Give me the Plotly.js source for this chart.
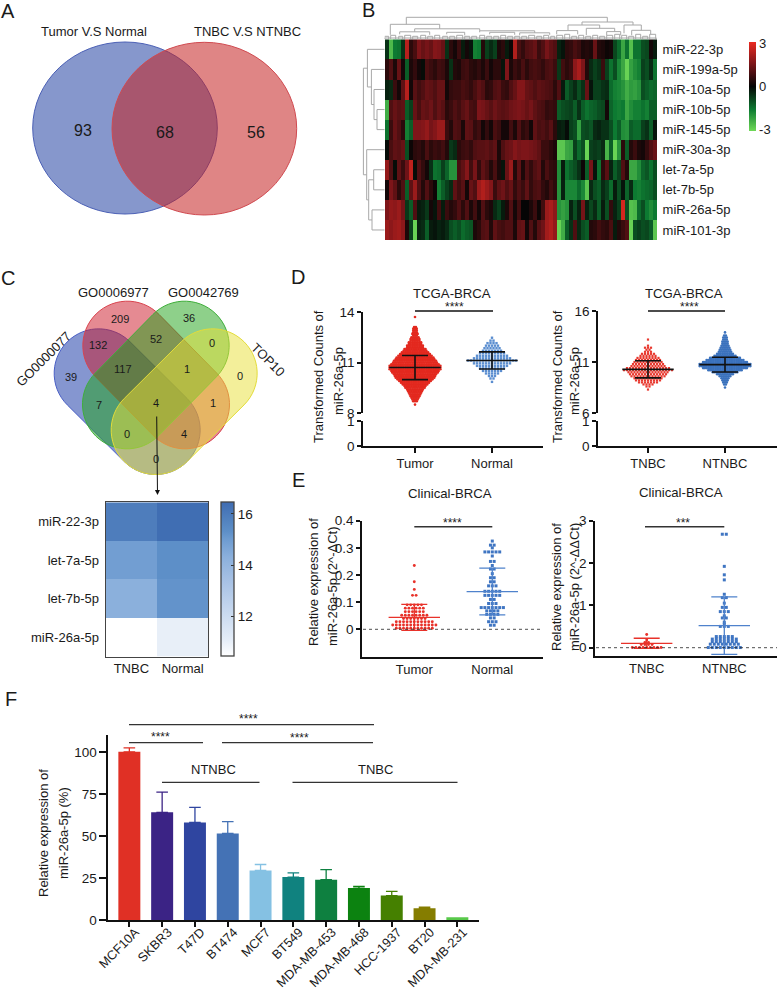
<!DOCTYPE html>
<html><head><meta charset="utf-8">
<script src="https://cdn.plot.ly/plotly-3.0.1.min.js"></script>
<style>html,body{margin:0;padding:0;background:#fff}#c{width:777px;height:991px}</style></head>
<body><div id="c"></div>
<script>
// ---------- DATA ----------
const heatRows=['miR-22-3p','miR-199a-5p','miR-10a-5p','miR-10b-5p','miR-145-5p','miR-30a-3p','let-7a-5p','let-7b-5p','miR-26a-5p','miR-101-3p'];
const heatR0=[-0.6,-2.6,-1.6,-1.5,-0.6,2.4,0.5,0.9,1.6,1.3,1.5,1.3,1.7,1.6,1.3,-0.6,0.5,0.2,0.7,-0.3,0.2,-0.2,-1.7,-1.6,0.4,-0.8,-0.5,-0.8,0.3,0.5,-0.3,0.1,2.3,0.9,0.6,1,1.1,1.3,0.7,1,1.5,1.2,1.0,-0.4,-0.2,0.5,0.6,0.9,0.7,0.3,0.4,0.3,1.3,0.4,0.3,0.1,0.2,-0.9,-1.4,-2.3,-1.5,-2.7,-1.5,-1.5,-1.0,-0.9,0.2,-0.3];
const heatR1=[0.5,1.0,0.3,1.3,0.2,-1.2,0.3,0.6,0.2,-0.1,0.9,0.7,0.5,0.8,0.7,0.3,-0.6,0.4,0.3,0.7,0.8,0.5,0.4,0.6,0.3,0.7,0.2,0.5,0.5,-0.2,1.6,0.3,0.7,0.5,0.9,0.5,0.8,0.9,0.8,0.6,0.9,1.0,0.7,-0.7,0.8,0.5,0.7,1.8,2.2,1.6,0.4,-0.5,-0.8,-0.6,0.7,-0.8,-1.5,-1,-1.8,-2.3,-3,-2.2,-1.9,-1.7,-0.8,-1,-0.5,-1.5];
const heatR2=[-0.4,-0.5,0.7,0.2,1.2,2.4,0.2,1.1,0.8,1,1.3,1.2,1.0,1.3,1.3,0.2,0.6,0.7,0.7,0.9,0.8,0.6,0.9,1.2,1.0,0.5,0.6,1,1.1,0.7,0.6,1.0,1.3,1.7,1.7,1.3,1.2,1.0,1.2,1.1,1,0.9,0.5,1,-0.3,-1.2,-0.8,-0.5,-1,-0.6,1.3,-0.2,-0.8,-0.8,-0.6,-0.5,-1.4,-1.7,-1.8,-2,-2.4,-2.1,-2.2,-2,-1,-1.2,-1.4,-1.3];
const heatR3=[-2.4,1.0,1.3,1.1,1.2,-1.2,-0.8,1.3,0.9,1.3,1.2,1.4,1,1.3,1.1,0.5,0.7,1,0.8,1.1,1.3,0.9,0.8,1.6,1.5,1.3,1.1,1.4,1.2,1.1,1.2,1.4,1.5,1.6,1.5,1.3,1.5,1.2,1.0,0.9,0.6,0.7,0.6,-1.2,-1.0,-0.9,-0.8,-1.2,-0.6,-1.2,-1.5,-1.3,-1.2,-1.0,-0.9,0.2,-1.3,-1.6,-1.7,-1.6,-2.3,-1.9,-1.7,-1.7,-1.5,-1.7,-1.2,-1.2];
const heatR4=[-1.5,0.7,1.3,1,0.5,-1.7,-1.2,1.6,1.6,1.7,1.9,1.5,1.7,2,2,0.7,0.4,1,0.9,0.3,1.2,1.1,0.6,0.8,0.2,0.6,0.2,0.9,0.7,0.2,0.2,0.8,0.3,1.0,0.5,0.7,0.2,1.2,0.9,1,0.8,1.1,0.5,-0.3,-0.4,-0.1,-0.8,-1,-2.2,-1,-0.9,-1.1,-0.5,-0.4,-0.6,-0.6,-1.0,-1.6,-1.2,-1.9,-2.0,-1.2,-1.4,-1.4,-0.8,-0.6,-1.2,-0.2];
const heatR5=[-0.1,0.9,1.2,1.1,1.3,-1,0.1,0.5,0.6,0.4,0.9,0.5,0.7,0.6,0.8,0.4,-0.7,-0.5,0.5,0.7,0.8,0.6,1,1.1,1.1,1.2,1,1.2,0.3,1,1.3,1.4,1.7,1.5,1.6,1.6,1.5,1.4,1.2,0.7,0.7,0.5,0.3,-2.8,-2.8,-2.3,-2.2,-0.8,-1.4,-1,-3,-0.8,-0.7,-0.8,-0.5,-2.5,-1.2,-3,-2,0.5,-1.2,0.4,0.7,0.3,0.2,0.6,1,1.3];
const heatR6=[1.9,1.0,-0.1,1.2,0.7,1.4,2.5,-0.1,1,0.6,0.2,-0.6,-1.5,-1.4,-0.8,-1.3,-2,-2,0.9,1.2,1.7,0.8,1.5,0.6,1.2,0.9,0.4,0.9,0.3,-0.2,1.3,2,0.4,1.2,0.3,1,0.6,1,1.2,0.4,0.9,0.6,0.5,-1.9,-0.3,-1.5,-1.2,-1,-0.6,0.1,-1.2,1.5,-0.2,-1.5,0.5,1.1,-0.4,-1.2,-0.8,1,0.4,-2.3,-2.3,-1.9,-1.3,-1.1,-1.5,-1.0];
const heatR7=[0.2,1.6,1.2,0.5,1,-1.2,1.2,2,1,0.4,1,0.5,0.1,-1.7,-1.2,-0.8,-0.5,1.2,0.8,1.1,0.2,1.3,1.0,2,2.3,2.0,1.7,0.7,1.2,1.4,1,1.3,0.6,1,0.7,1.2,0.6,0.9,1,0.6,0.4,0.8,0.5,-2,-0.4,-1.8,-1.8,-1.8,-1.4,-1.8,-2.8,-0.5,-1,-1.2,-0.5,-0.8,-1.4,-0.3,-1,-0.2,-1.3,-0.5,-1.6,-1.7,-1.5,-1.4,-1.3,-1.0];
const heatR8=[1.6,1.9,1.8,2,1.5,-0.7,-1.2,1,-0.3,-0.4,-0.7,0.2,-0.2,0.8,-0.3,0.7,0.4,0.6,1.0,0.5,1,0.3,0.8,0.2,1,0.5,0.3,-0.5,-0.8,-0.3,0.3,1,0.2,0.8,0,0,0.3,0.7,0.1,0.8,2,2.2,1.8,-2,-2.2,-2,-0.4,-1.0,-0.4,1.5,-0.4,-0.9,-0.5,-1.2,-0.3,-1,0.6,-0.4,-0.8,2.8,-1,-2.7,-2.6,-1.4,-1,-1.6,-1.9,-1.6];
const heatR9=[2,1.8,2,2.1,1.8,0.3,-0.8,-3,-0.4,-0.5,-1.2,-0.3,-0.2,-0.4,-0.3,-0.5,-1.0,-1.2,-1,-1.4,-1.2,-1.1,0.3,0.5,1.0,1.1,0.4,1.2,0.9,0.8,1,1,0.3,1.2,1.3,0.2,1,0.4,1.1,1.4,2.1,2.3,1.9,-3,-2.4,-1.2,-0.6,1,-0.5,-1,-1.2,0.4,0.5,0.8,0.6,0.5,0.9,-0.3,0.4,0.7,1,-3,-1,-0.8,-1,-0.9,-1.2,-2.8];
const heatMatrix=[heatR0,heatR1,heatR2,heatR3,heatR4,heatR5,heatR6,heatR7,heatR8,heatR9];
// dendrograms: [pos1,height1,pos2,height2,mergeHeight]
const topMerges=[[21.6,15,222.6,17.3,22],[5.6,4.5,55,10.5,15],[30,7.5,95,8.5,10.5],[95,7,150,6.5,8.5],[15,5,45,4.5,7.5],[62,5,80,4,7],[105,5,130,4.5,7],[135,4,165,4.5,6.5],[197.3,14.3,248.3,14.3,17.3],[183.3,8.7,215,11,14.3],[201.6,4.3,230,7.7,11],[239.3,6,256.6,9,14.3],[172,5,193,5,8.7],[247,4,266,5,9],[222,4,236,4,7.7]];
const topLeaves=[[0,4,3],[6,11,4],[14,18,3],[20,26,4],[28,33,3],[36,41,4],[43,48,3],[50,55,4],[58,63,3],[65,70,3],[72,78,4],[80,85,3],[87,92,3],[95,100,4],[102,107,3],[109,114,3],[116,121,4],[123,128,3],[130,135,3],[137,142,3],[144,150,4],[152,157,3],[159,164,4],[166,170,3],[172,178,4],[180,185,5],[187,192,3],[194,199,4],[201,206,3],[208,213,4],[215,220,3],[222,228,4],[230,235,5],[237,242,4],[244,249,3],[251,256,5],[258,263,3],[265,271,5],[0,272,1.3]];
const leftMerges=[[3,0,4,0,7.7],[2,0,3.5,7.7,10.7],[1,0,2.75,10.7,13.3],[0,0,1.875,13.3,17.3],[6,0,7,0,11],[8,0,9,0,12.7],[6.5,11,8.5,12.7,16],[5,0,7.5,16,18],[0.94,17.3,6.25,18,21.3]];
// Venn A
const vennALabels=['Tumor V.S Normal','TNBC V.S NTNBC'];
const vennACounts=[93,68,56];
// Venn C
const vennCNames=['GO0000077','GO0006977','GO0042769','TOP10'];
const vennCCounts=[209,36,132,52,0,39,117,1,0,7,4,1,0,4,0];
// Heatmap C
const cRows=['miR-22-3p','let-7a-5p','let-7b-5p','miR-26a-5p'];
const cCols=['TNBC','Normal'];
const cValues=[[15.9,16.4],[14.9,15.3],[14.3,15.2],[10.44,11.0]];
// D
const d1Cats=['Tumor','Normal'];
const d2Cats=['TNBC','NTNBC'];
const tumorLevels=[13.7,13.1,13.0,12.9,12.8,12.7,12.6,12.5,12.4,12.3,12.2,12.1,12.0,11.9,11.8,11.7,11.6,11.5,11.4,11.3,11.2,11.1,11.0,10.9,10.8,10.7,10.6,10.5,10.4,10.3,10.2,10.1,10.0,9.9,9.8,9.7,9.6,9.5,9.4,9.3,9.2,9.1,9.0,8.9,8.8,8.7,8.5];
const tumorCounts=[1,2,3,3,3,4,3,5,6,6,8,8,10,10,13,14,16,18,20,22,23,25,26,28,30,30,30,28,27,25,24,23,21,19,17,15,13,12,10,9,8,7,6,5,4,3,1];
const normalLevels=[12.47,12.3,12.15,12.0,11.85,11.7,11.55,11.4,11.25,11.12,10.95,10.8,10.65,10.5,10.35,10.2,10.05,9.85];
const normalCounts=[1,2,4,5,6,7,9,11,13,17,13,11,9,7,5,3,2,1];
const tnbcLevels=[13.2,12.6,12.4,12.2,12.0,11.8,11.6,11.4,11.2,11,10.8,10.6,10.4,10.2,10,9.8,9.6,9.4,9.2,9,8.8,8.6,8.3];
const tnbcCounts=[1,1,3,2,3,5,6,8,9,10,11,12,15,17,14,13,12,10,9,7,4,2,1];
const ntnbcLevels=[13.9,13.6,13.4,13.2,13,12.8,12.6,12.4,12.2,12,11.8,11.6,11.4,11.2,11,10.8,10.6,10.4,10.2,10,9.8,9.6,9.4,9.2,9,8.8,8.5];
const ntnbcCounts=[1,2,3,3,4,4,5,6,7,8,10,13,18,22,26,30,30,26,20,15,10,7,5,4,3,2,1];
const d1Means=[10.7,11.12], d1Sds=[0.72,0.51];
const d2Means=[10.28,10.74], d2Sds=[0.84,0.72];
// E
const e1TumorLevels=[0.235,0.175,0.147,0.125,0.09,0.078,0.065,0.052,0.04,0.028,0.016,0.004];
const e1TumorCounts=[1,1,1,2,5,6,6,8,7,11,13,11];
const e1NormalLevels=[0.325,0.31,0.30,0.285,0.27,0.25,0.235,0.222,0.205,0.19,0.175,0.16,0.14,0.125,0.11,0.095,0.08,0.068,0.055,0.042,0.028,0.015];
const e1NormalCounts=[1,2,1,5,1,2,1,2,1,2,2,3,5,5,2,3,7,4,4,2,3,2];
const e2TnbcLevels=[0.31,0.18,0.12,0.07,0];
const e2TnbcCounts=[1,1,2,4,9];
const e2NtnbcLevels=[2.68,1.92,1.72,1.6,1.26,1.18,1.05,0.95,0.85,0.75,0.7,0.6,0.55,0.5,0.26,0.2,0.14,0.08,0];
const e2NtnbcCounts=[2,1,1,1,1,2,1,2,3,1,2,1,1,3,5,7,7,8,9];
const e1Means=[0.044,0.139], e1Sds=[0.048,0.086];
const e2Means=[0.10,0.52], e2Sds=[0.12,0.68];
// F
const cellLines=['MCF10A','SKBR3','T47D','BT474','MCF7','BT549','MDA-MB-453','MDA-MB-468','HCC-1937','BT20','MDA-MB-231'];
const cellMeans=[100,64,58,51.5,29.5,25.5,24,19,14.5,7,1.7];
const cellErrors=[2.3,12,9,7,3.5,2.5,6,1,2.5,0.7,0];
const cellColors=['#e03025','#3b2385','#2f45a0','#4472b5','#85c1e3','#10827f','#0e8040','#0c8210','#458000','#857d00','#58c94a'];

// ---------- LAYOUT HELPERS ----------
const W=777,H=991,FONT='Liberation Sans, Arial, sans-serif',INK='#1a1a1a';
const dx=(a,b)=>[a/W,b/W], dy=(a,b)=>[1-b/H,1-a/H];
const PX=x=>x/W, PY=y=>1-y/H;
const annotations=[],shapes=[],traces=[];
function note(text,x,y,size,o){annotations.push(Object.assign({text:String(text),x:PX(x),y:PY(y),xref:'paper',yref:'paper',xanchor:'center',yanchor:'middle',showarrow:false,font:{family:FONT,size:size||13,color:INK}},o||{}));}
function line(x0,y0,x1,y1,color,width,dash){shapes.push({type:'line',xref:'paper',yref:'paper',x0:PX(x0),x1:PX(x1),y0:PY(y0),y1:PY(y1),line:{color:color||'#111',width:width||1.5,dash:dash||'solid'}});}
function swarm(levels,counts,center,spacing){const xs=[],ys=[];levels.forEach((v,i)=>{const n=counts[i];for(let k=0;k<n;k++){xs.push(center+(k-(n-1)/2)*spacing);ys.push(v);}});return {x:xs,y:ys};}
function merges(list,flip){const a=[],b=[];list.forEach(m=>{const pts=[[m[0],m[1]],[m[0],m[4]],[m[2],m[4]],[m[2],m[3]]];pts.forEach(p=>{a.push(p[0]);b.push(p[1]);});a.push(null);b.push(null);});return flip?{x:b,y:a}:{x:a,y:b};}
const layout={width:W,height:H,margin:{l:0,r:0,t:0,b:0},paper_bgcolor:'#fff',plot_bgcolor:'rgba(0,0,0,0)',showlegend:false,hovermode:'closest',font:{family:FONT,color:INK,size:13},annotations,shapes};
const hidden={visible:false,showgrid:false,zeroline:false,fixedrange:true};

// ---------- PANEL LETTERS ----------
note('A',8,11,20);note('B',368,10,20);note('C',8,278,20);note('D',298,277,20);note('E',298,480,20);note('F',11,699,20);

// ---------- A ----------
shapes.push({type:'circle',xref:'paper',yref:'paper',x0:PX(32.7),x1:PX(217.3),y0:PY(214),y1:PY(42),fillcolor:'rgba(35,66,162,0.55)',line:{color:'#4a5fb5',width:1}});
shapes.push({type:'circle',xref:'paper',yref:'paper',x0:PX(112),x1:PX(296.7),y0:PY(215),y1:PY(42.3),fillcolor:'rgba(197,33,33,0.55)',line:{color:'#d04a50',width:1}});
note(vennALabels[0],94,31,13);note(vennALabels[1],247,31,13);
[[83,131],[164.7,132],[256,132]].forEach((p,i)=>note(vennACounts[i],p[0],p[1],16));

// ---------- B ----------
traces.push({type:'heatmap',z:heatMatrix,y:heatRows,xaxis:'x',yaxis:'y',zmin:-3.1,zmax:3.1,
 colorscale:[[0,'#6fd957'],[0.242,'#0d7a32'],[0.5,'#050505'],[0.758,'#7d1519'],[1,'#ea2a20']],
 colorbar:{x:PX(749),xanchor:'left',y:PY(42),yanchor:'top',len:89/H,lenmode:'fraction',thickness:6.5,thicknessmode:'pixels',xpad:0,ypad:0,outlinewidth:0,tickvals:[3,0,-3],ticktext:['3','0','-3'],ticks:'',ticklabelposition:'outside',tickfont:{family:FONT,size:13,color:INK}},hoverongaps:false});
layout.xaxis=Object.assign({},hidden,{domain:dx(385,657),anchor:'y'});
layout.yaxis={domain:dy(39.3,240),anchor:'x',side:'right',autorange:'reversed',type:'category',showgrid:false,zeroline:false,ticks:'outside',ticklen:2,tickcolor:'rgba(0,0,0,0)',showline:false,tickfont:{family:FONT,size:13,color:INK},fixedrange:true};
const td=merges(topMerges.concat(topLeaves.map(l=>[l[0],0,l[1],0,l[2]])),false);
traces.push({type:'scatter',mode:'lines',x:td.x,y:td.y,xaxis:'x2',yaxis:'y2',line:{color:'#a8a8a8',width:1},hoverinfo:'skip'});
layout.xaxis2=Object.assign({},hidden,{domain:dx(384.7,656.7),range:[0,272],anchor:'y2'});
layout.yaxis2=Object.assign({},hidden,{domain:dy(16,39.3),range:[0,23.3],anchor:'x2'});
const ld=merges(leftMerges,true);
traces.push({type:'scatter',mode:'lines',x:ld.x,y:ld.y,xaxis:'x3',yaxis:'y3',line:{color:'#a8a8a8',width:1},hoverinfo:'skip'});
layout.xaxis3=Object.assign({},hidden,{domain:dx(360,384.7),range:[24.7,0],anchor:'y3'});
layout.yaxis3=Object.assign({},hidden,{domain:dy(39.3,240),range:[9.5,-0.5],anchor:'x3'});

// ---------- C venn ----------
function stadium(ax,ay,bx,by,r){const ang=Math.atan2(by-ay,bx-ax);const pts=[];for(let i=0;i<=30;i++){const t=ang+Math.PI/2+Math.PI*i/30;pts.push([ax+r*Math.cos(t),ay+r*Math.sin(t)]);}for(let i=0;i<=30;i++){const t=ang-Math.PI/2+Math.PI*i/30;pts.push([bx+r*Math.cos(t),by+r*Math.sin(t)]);}return 'M '+pts.map(p=>PX(p[0])+','+PY(p[1])).join(' L ')+' Z';}
const Z=(x,y)=>[x/3,y/3+270];
function lobe(a,b,fill,stroke){const A=Z(a[0],a[1]),B=Z(b[0],b[1]);shapes.push({type:'path',xref:'paper',yref:'paper',path:stadium(A[0],A[1],B[0],B[1],44.5),fillcolor:fill,line:{color:stroke,width:1}});}
lobe([467,480],[296,310],'rgba(11,45,161,0.5)','#4a5fc5');
lobe([382,227],[555,403],'rgba(203,21,37,0.5)','#d9434e');
lobe([554,227],[381,403],'rgba(29,161,21,0.5)','#3fae3a');
lobe([467,480],[638,310],'rgba(231,223,53,0.5)','#e3dc3a');
note(vennCNames[1],113,292,13);note(vennCNames[2],204,292,13);
note(vennCNames[0],43,359,13,{textangle:-45});note(vennCNames[3],268,359,13,{textangle:45});
[[359,146],[568,143],[295,224],[467,206],[637,218],[214,320],[370,297],[560,298],[720,318],[296,404],[467,400],[638,398],[381,491],[551,491],[468,568]].forEach((p,i)=>{const q=Z(p[0],p[1]);note(vennCCounts[i],q[0],q[1],11);});
annotations.push({text:'',xref:'paper',yref:'paper',x:PX(157.5),y:PY(495),ax:-0.8,ay:-80,axref:'pixel',ayref:'pixel',showarrow:true,arrowhead:2,arrowsize:1,arrowwidth:1,arrowcolor:'#111'});

// ---------- C heatmap ----------
traces.push({type:'heatmap',z:cValues,x:cCols,y:cRows,xaxis:'x4',yaxis:'y4',zmin:10.44,zmax:16.45,
 colorscale:[[0,'#ffffff'],[0.1,'#e6eef8'],[0.5,'#a5c0e4'],[0.643,'#8bb0dc'],[0.76,'#6d9bd0'],[0.81,'#5d8fc8'],[0.9,'#4f7fbd'],[1,'#3f6cb2']],
 colorbar:{x:PX(221),xanchor:'left',y:PY(502.3),yanchor:'top',len:154.4/H,lenmode:'fraction',thickness:12.7,thicknessmode:'pixels',xpad:0,ypad:0,outlinewidth:1.3,outlinecolor:'#444',tickvals:[16,14,12],ticks:'inside',ticklen:3,tickcolor:'#333',tickfont:{family:FONT,size:13.5,color:INK}}});
layout.xaxis4={domain:dx(105.7,208.3),anchor:'y4',type:'category',showgrid:false,zeroline:false,ticks:'',showline:true,mirror:true,linecolor:'#444',linewidth:1.3,tickfont:{family:FONT,size:13,color:INK},fixedrange:true};
layout.yaxis4={domain:dy(502.3,656.7),anchor:'x4',type:'category',autorange:'reversed',showgrid:false,zeroline:false,ticks:'outside',ticklen:3,tickcolor:'rgba(0,0,0,0)',showline:true,mirror:true,linecolor:'#444',linewidth:1.3,tickfont:{family:FONT,size:13,color:INK},fixedrange:true};

// ---------- scatter panels ----------
const axLine={showgrid:false,zeroline:false,showline:true,linecolor:'#111',linewidth:1.5,ticks:'outside',tickcolor:'#111',tickwidth:1.5,fixedrange:true};
function xAxisFor(n,left,right,c1,c2,yAnchor,cats,tl){const u=c2-c1;layout['xaxis'+n]=Object.assign({},axLine,{domain:dx(left,right),range:[1-(c1-left)/u,2+(right-c2)/u],anchor:yAnchor,tickvals:[1,2],ticktext:cats,ticklen:tl,tickfont:{family:FONT,size:13,color:INK}});return u;}
function yAxisFor(n,top,bottom,range,vals,xAnchor,size){layout['yaxis'+n]=Object.assign({},axLine,{domain:dy(top,bottom),range:range,tickvals:vals,ticklen:4,anchor:xAnchor,tickfont:{family:FONT,size:size||13.5,color:INK}});}
function dots(xa,ya,s,color,size,symbol){traces.push({type:'scatter',mode:'markers',x:s.x,y:s.y,xaxis:xa,yaxis:ya,cliponaxis:false,marker:{color:color,size:size,symbol:symbol,line:{width:0}},hoverinfo:'y'});}
function stat(xa,ya,c,m,sd,color,u,th){traces.push({type:'scatter',mode:'markers',x:[c],y:[m],xaxis:xa,yaxis:ya,cliponaxis:false,marker:{size:1,color:color,opacity:0},hoverinfo:'skip',
 error_y:{type:'data',array:[sd],width:13,thickness:th,color:color},error_x:{type:'constant',value:25.7/u,width:0,thickness:th,color:color}});}
// the lower, broken segment of an axis holds no point, but needs a trace to be drawn
function brokenSegment(xa,ya){traces.push({type:'scatter',mode:'markers',x:[1],y:[0.5],xaxis:xa,yaxis:ya,marker:{size:1,opacity:0},hoverinfo:'skip'});}

// D1
let u=xAxisFor(5,363,543,415,492,'y6',d1Cats,5);
yAxisFor(5,312,413,[8,14],[8,11,14],'x5');
yAxisFor(6,421,446,[0,1],[0,1],'x5');
brokenSegment('x5','y6');
dots('x5','y5',swarm(tumorLevels,tumorCounts,1,1.75/u),'#e3291f',2.6,'circle');
dots('x5','y5',swarm(normalLevels,normalCounts,2,3/u),'#5b8ed0',2.4,'square');
stat('x5','y5',1,d1Means[0],d1Sds[0],'#111',u,1.6);
stat('x5','y5',2,d1Means[1],d1Sds[1],'#111',u,1.6);
line(415,311,493,311);note('****',454,307,12);
note('TCGA-BRCA',452,293,13.2);
note('Transformed Counts of',318,377,13,{textangle:-90});note('miR-26a-5p',338,381,13,{textangle:-90});
// D2
u=xAxisFor(6,598,777,648,725,'y8',d2Cats,5);
yAxisFor(7,311,413,[6,16],[6,11,16],'x6');
yAxisFor(8,421,446,[0,1],[0,1],'x6');
brokenSegment('x6','y8');
dots('x6','y7',swarm(tnbcLevels,tnbcCounts,1,3/u),'#e8392f',2.2,'square');
dots('x6','y7',swarm(ntnbcLevels,ntnbcCounts,2,1.75/u),'#3b72bd',2.6,'circle');
stat('x6','y7',1,d2Means[0],d2Sds[0],'#111',u,1.6);
stat('x6','y7',2,d2Means[1],d2Sds[1],'#111',u,1.6);
line(648,311,725,311);note('****',689,307,12);
note('TCGA-BRCA',684,293,13.2);
note('Transformed Counts of',557,377,13,{textangle:-90});note('miR-26a-5p',574,381,13,{textangle:-90});
// E1
u=xAxisFor(7,362,543,414.3,492.3,'y9',d1Cats,0);
layout.xaxis7.ticks='';
yAxisFor(9,520.7,657,[-0.102,0.4],[0,0.1,0.2,0.3,0.4],'x7');
dots('x7','y9',swarm(e1TumorLevels,e1TumorCounts,1,3.6/u),'#e8322a',2.9,'circle');
dots('x7','y9',swarm(e1NormalLevels,e1NormalCounts,2,3.7/u),'#3f75c2',3,'square');
stat('x7','y9',1,e1Means[0],e1Sds[0],'#e8322a',u,1.3);
stat('x7','y9',2,e1Means[1],e1Sds[1],'#4f82cc',u,1.3);
line(363,629.3,543,629.3,'#222',0.8,'dot');
line(414.3,526.7,492.3,526.7,'#333',1.6);note('****',453,523,12);
note('Clinical-BRCA',450,493,13.2);
note('Relative expression of',313,582,13,{textangle:-90});note('miR-26a-5p (2^-ΔCt)',332,586,13,{textangle:-90});
// E2
u=xAxisFor(8,595,777,646.7,724.3,'y10',d2Cats,0);
layout.xaxis8.ticks='';
yAxisFor(10,520.7,656,[-0.2,3],[0,1,2,3],'x8');
dots('x8','y10',swarm(e2TnbcLevels,e2TnbcCounts,1,3.6/u),'#e8322a',2.9,'circle');
dots('x8','y10',swarm(e2NtnbcLevels,e2NtnbcCounts,2,4/u),'#3f75c2',3,'square');
stat('x8','y10',1,e2Means[0],e2Sds[0],'#e8322a',u,1.3);
stat('x8','y10',2,e2Means[1],e2Sds[1],'#4f82cc',u,1.3);
line(596,647.7,777,647.7,'#222',0.8,'dot');
line(645,526.7,724.3,526.7,'#333',1.6);note('***',683,523,12);
note('Clinical-BRCA',681,492,13.2);
note('Relative expression of',556,587,13,{textangle:-90});note('miR-26a-5p (2^-ΔΔCt)',574,587,13,{textangle:-90});

// ---------- F ----------
cellLines.forEach((c,i)=>{traces.push({type:'bar',x:[c],y:[cellMeans[i]],xaxis:'x9',yaxis:'y11',width:0.67,marker:{color:cellColors[i],line:{width:0}},
 error_y:cellErrors[i]>0?{type:'data',symmetric:false,array:[cellErrors[i]],arrayminus:[0],color:cellColors[i],thickness:1.3,width:5.8}:{visible:false},hoverinfo:'x+y'});});
layout.barmode='overlay';
layout.xaxis9=Object.assign({},axLine,{domain:dx(107.7,479),range:[-0.66,10.66],type:'category',categoryorder:'array',categoryarray:cellLines,anchor:'y11',tickangle:-45,ticklen:5,ticklabelstandoff:-7,ticklabelshift:6,tickfont:{family:FONT,size:12.8,color:INK}});
layout.yaxis11=Object.assign({},axLine,{domain:dy(735,920),range:[0,110],tickvals:[0,25,50,75,100],ticklen:6.5,anchor:'x9',tickfont:{family:FONT,size:13.5,color:INK}});
line(129,724.7,374,724.7,'#333',1.3);note('****',248,719,12);
line(129,742.7,203,742.7,'#333',1.3);note('****',160.5,737,12);
line(222,742.7,373,742.7,'#333',1.3);note('****',299,737.5,12);
line(162,782.3,259.5,782.3,'#333',1.3);note('NTNBC',213,769,13);
line(292.5,782.3,457.5,782.3,'#333',1.3);note('TNBC',375.7,769,13);
note('Relative expression of',43,833,13,{textangle:-90});note('miR-26a-5p (%)',63,833,13,{textangle:-90});

Plotly.newPlot('c',traces,layout,{displayModeBar:false,responsive:false});
</script></body></html>
